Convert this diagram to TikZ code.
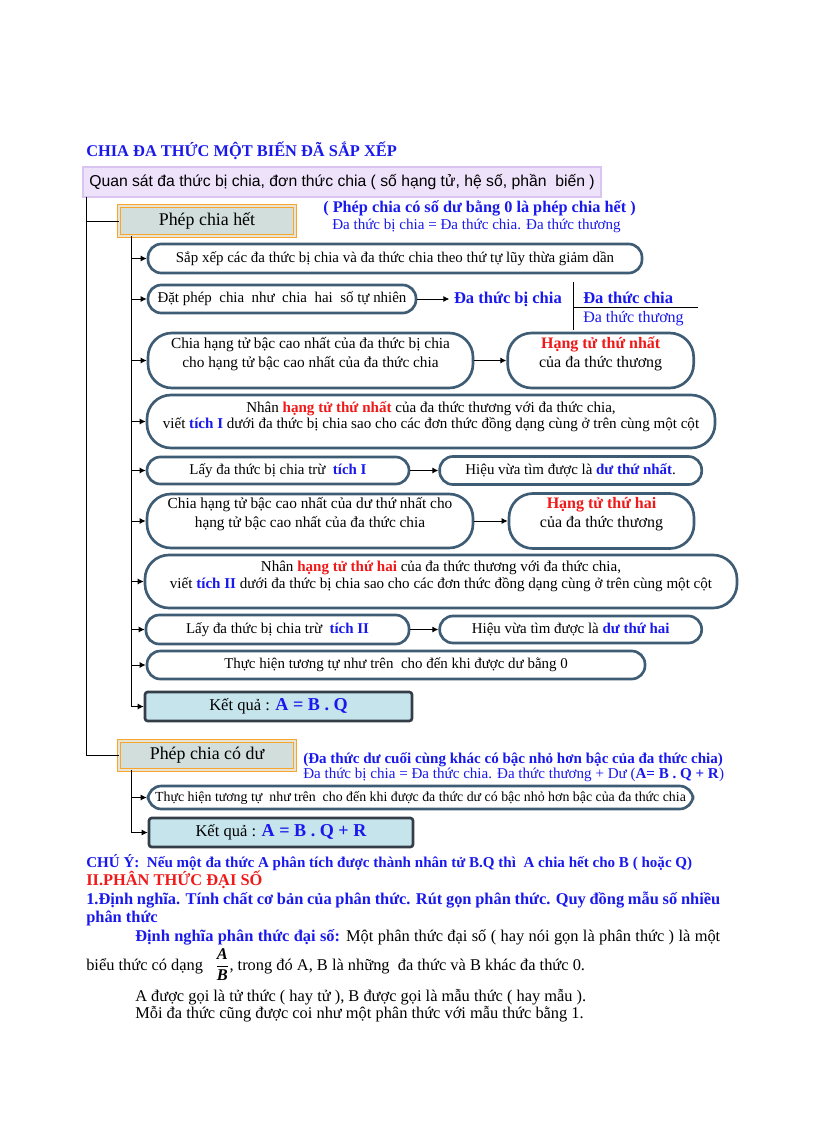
\documentclass[tikz,border=0pt]{standalone}
\usepackage{fontspec}
\usepackage{amsmath}
\setmainfont{Liberation Serif}
\newfontfamily\sansfont{Liberation Sans}
\usetikzlibrary{positioning,arrows.meta}

\definecolor{stepline}{RGB}{62,92,116}
\definecolor{obsfill}{RGB}{238,226,250}
\definecolor{obsline}{RGB}{218,196,242}
\definecolor{hetfill}{RGB}{210,222,220}
\definecolor{hetframe}{RGB}{232,228,214}
\definecolor{boxorange}{RGB}{247,165,45}
\definecolor{resfill}{RGB}{198,228,236}
\definecolor{resline}{RGB}{52,62,72}
\definecolor{myblue}{RGB}{25,25,235}
\definecolor{myred}{RGB}{240,25,25}

\newcommand{\hlblue}[1]{\textcolor{myblue}{\bfseries #1}}
\newcommand{\hlred}[1]{\textcolor{myred}{\bfseries #1}}
\newcommand{\padline}{\\[-2pt]\mbox{}}

\tikzset{
  boxsize/.style 2 args={minimum width=#1*0.75pt, minimum height=#2*0.75pt},
  stepbox/.style={draw=stepline, line width=2pt, fill=white, rounded corners=10pt,
    inner sep=1pt, align=center, font=\fontsize{11.2}{13}\selectfont},
  tallbox/.style={stepbox, rounded corners=18pt, font=\fontsize{11.5}{14.5}\selectfont},
  branchbox/.style={draw=boxorange, line width=0.7pt, double=hetframe, double distance=1.6pt,
    fill=hetfill, inner sep=1pt, font=\fontsize{13.4}{15}\selectfont},
  resbox/.style={draw=resline, line width=2pt, fill=resfill, rounded corners=2pt,
    inner sep=1pt, font=\fontsize{12.4}{14}\selectfont},
  bluenote/.style={anchor=base west, inner sep=0pt, text=myblue},
  bodytext/.style={anchor=base west, inner sep=0pt, font=\fontsize{12.3}{14}\selectfont},
  trunk/.style={line width=0.7pt},
}

\begin{document}
\begin{tikzpicture}[x=0.75pt, y=-0.75pt, >={Latex[length=4.5pt,width=4.5pt]}]
\useasboundingbox (0,0) rectangle (816,1123);

% Header %
\node[bluenote, font=\fontsize{12.3}{14}\selectfont\bfseries] (title) at (86,157) {CHIA ĐA THỨC MỘT BIẾN ĐÃ SẮP XẾP};
\node[draw=obsline, line width=2pt, fill=obsfill, boxsize={518}{30}, inner sep=1pt, font=\sansfont\fontsize{11.8}{13}\selectfont] (obs) at (342,182) {Quan sát đa thức bị chia, đơn thức chia ( số hạng tử, hệ số, phần\ \ biến )};

% Phep chia het %
\node[branchbox, boxsize={176}{30}] (het) at (207,221) {Phép chia hết};
\node[bluenote, font=\fontsize{12.2}{13}\selectfont\bfseries] (hetnote) at (323,213) {( Phép chia có số dư bằng 0 là phép chia hết )};
\node[bluenote, font=\fontsize{11.3}{12}\selectfont] (hetrule) at (332,229) {Đa thức bị chia = Đa thức chia. Đa thức thương};

\node[stepbox, boxsize={494}{29}] (s1) at (395,258.5) {Sắp xếp các đa thức bị chia và đa thức chia theo thứ tự lũy thừa giảm dần};
\node[stepbox, boxsize={268}{28}] (s2) at (282,299) {Đặt phép\ \ chia\ \ như\ \ chia\ \ hai\ \ số tự nhiên};
\node[right=24pt of s2, text=myblue, font=\fontsize{12.4}{13}\selectfont\bfseries] (bichia) {Đa thức bị chia};
\node[bluenote, font=\fontsize{12.4}{13}\selectfont\bfseries] (chia) at (583,303) {Đa thức chia};
\node[bluenote, font=\fontsize{12}{13}\selectfont] (thuong) at (583,322) {Đa thức thương};
\coordinate (divtop) at (573,282);
\coordinate (divbot) at (573,330);
\coordinate (divmid) at (573,307);
\coordinate (divend) at (698,307);

\node[tallbox, boxsize={325}{55}] (s3) at (310.5,360.5) {Chia\ hạng\ tử bậc cao nhất\ của đa thức bị chia\\cho hạng\ tử bậc cao nhất\ của\ đa thức chia\padline};
\node[tallbox, boxsize={186}{55}, right=24pt of s3, font=\fontsize{12}{14.5}\selectfont] (s3r) {\hlred{Hạng tử thứ nhất}\\của đa thức thương\padline};
\node[tallbox, boxsize={568}{53}, font=\fontsize{11.3}{12}\selectfont] (s4) at (431,421.5) {Nhân \hlred{hạng tử thứ nhất} của đa thức thương với đa thức chia,\\viết \hlblue{tích I} dưới đa thức bị chia sao cho các đơn thức đồng dạng cùng ở trên cùng một cột\padline};
\node[stepbox, boxsize={262}{27}] (s5) at (278,470.5) {Lấy đa thức bị chia trừ\ \ \hlblue{tích I}};
\node[stepbox, boxsize={262}{28}, right=21pt of s5] (s5r) {Hiệu vừa tìm được là \hlblue{dư thứ nhất}.};
\node[tallbox, boxsize={326}{54}] (s6) at (310,521) {Chia\ hạng\ tử bậc cao nhất\ của dư thứ nhất\ cho\\hạng\ tử bậc cao nhất\ của\ đa thức chia\padline};
\node[tallbox, boxsize={185}{55}, right=25pt of s6, font=\fontsize{12}{14.5}\selectfont] (s6r) {\hlred{Hạng tử thứ hai}\\của\ đa thức thương\padline};
\node[tallbox, boxsize={592}{53}, font=\fontsize{11.3}{12.5}\selectfont] (s7) at (441,581.5) {Nhân \hlred{hạng tử thứ hai}\ của đa thức thương với đa thức chia,\\viết \hlblue{tích II} dưới đa thức bị chia sao cho các đơn thức đồng dạng cùng ở trên cùng một cột\padline};
\node[stepbox, boxsize={263}{29}] (s8) at (277.5,629.5) {Lấy đa thức bị chia trừ\ \ \hlblue{tích II}};
\node[stepbox, boxsize={262}{27}, right=21pt of s8] (s8r) {Hiệu vừa tìm được là \hlblue{dư thứ hai}};
\node[stepbox, boxsize={498}{28}] (s9) at (396,665) {Thực hiện tương tự như trên\ \ cho đến khi được dư bằng 0};
\node[resbox, boxsize={267}{29}] (res1) at (278.5,706.5) {Kết quả : \hlblue{\fontsize{13.6}{14}\selectfont A\ =\ B . Q}};

% Phep chia co du %
\node[branchbox, boxsize={176}{29}] (du) at (207,755.5) {Phép chia có dư};
\node[bluenote, font=\fontsize{11.3}{13}\selectfont\bfseries] (dunote) at (303,763) {(Đa thức dư cuối cùng khác có bậc nhỏ hơn bậc của đa thức chia)};
\node[bluenote, font=\fontsize{11.3}{13}\selectfont] (durule) at (303,778) {Đa thức bị chia = Đa thức chia. Đa thức thương + Dư (\textbf{A= B . Q + R})};
\node[stepbox, boxsize={545}{23}, font=\fontsize{10.4}{12}\selectfont] (d1) at (420.5,797.5) {Thực hiện tương tự\ \ như trên\ \ cho đến khi được đa thức dư có bậc nhỏ hơn bậc của đa thức chia};
\node[resbox, boxsize={264}{29}] (res2) at (281,832.5) {Kết quả : \hlblue{\fontsize{13.6}{14}\selectfont A\ =\ B . Q + R}};

% Trunk points %
\coordinate (trunkA) at (86,197);
\coordinate (trunkB) at (131,236);
\coordinate (trunkC) at (131,770);

% Edges %
\draw[trunk] (trunkA) |- (het.west);
\draw[trunk] (trunkA) |- (du.west);
\draw[trunk, ->] (trunkB) |- (res1.west);
\draw[trunk, ->] (trunkB |- s1.west) -- (s1.west);
\draw[trunk, ->] (trunkB |- s2.west) -- (s2.west);
\draw[trunk, ->] (trunkB |- s3.west) -- (s3.west);
\draw[trunk, ->] (trunkB |- s4.west) -- (s4.west);
\draw[trunk, ->] (trunkB |- s5.west) -- (s5.west);
\draw[trunk, ->] (trunkB |- s6.west) -- (s6.west);
\draw[trunk, ->] (trunkB |- s7.west) -- (s7.west);
\draw[trunk, ->] (trunkB |- s8.west) -- (s8.west);
\draw[trunk, ->] (trunkB |- s9.west) -- (s9.west);
\draw[trunk, ->] (trunkC) |- (res2.west);
\draw[trunk, ->] (trunkC |- d1.west) -- (d1.west);

\draw[trunk, ->] (s2) -- (bichia);
\draw[trunk, ->] (s3) -- (s3r);
\draw[trunk, ->] (s5) -- (s5r);
\draw[trunk, ->] (s6) -- (s6r);
\draw[trunk, ->] (s8) -- (s8r);

\draw[trunk] (divtop) -- (divbot);
\draw[trunk] (divmid) -- (divend);

% Text below %
\node[bluenote, font=\fontsize{11.3}{13}\selectfont\bfseries] (chuy) at (86,867) {CHÚ Ý:\ \ Nếu một đa thức A phân tích được thành nhân tử B.Q thì\ \ A chia hết cho B ( hoặc Q)};
\node[bodytext, text=myred, font=\fontsize{12.3}{14}\selectfont\bfseries] (part2) at (86,885) {II.PHÂN\ THỨC ĐẠI SỐ};
\node[bodytext, text=myblue, font=\fontsize{12.3}{14}\selectfont\bfseries] (def1) at (86,904) {\makebox[475.5pt][s]{1.Định nghĩa. Tính chất cơ bản của phân thức. Rút gọn phân thức. Quy đồng mẫu số nhiều}};
\node[bodytext, text=myblue, font=\fontsize{12.3}{14}\selectfont\bfseries] (def2) at (86,922) {phân thức};
\node[bodytext] (def3) at (135,941) {\makebox[438.75pt][s]{\hlblue{Định nghĩa phân thức đại số:} Một phân thức đại số ( hay nói gọn là phân thức ) là một}};
\node[bodytext] (def4) at (86,970) {biểu thức có dạng\ \ \ $\dfrac{\text{\bfseries\itshape A}}{\text{\bfseries\itshape B}}$, trong đó A, B là những\ \ đa thức và B khác đa thức 0.};
\node[bodytext] (def5) at (135,1001) {A được gọi là tử thức ( hay tử ), B được gọi là mẫu thức ( hay mẫu ).};
\node[bodytext] (def6) at (135,1018) {Mỗi đa thức cũng được coi như một phân thức với mẫu thức bằng 1.};

\end{tikzpicture}
\end{document}
